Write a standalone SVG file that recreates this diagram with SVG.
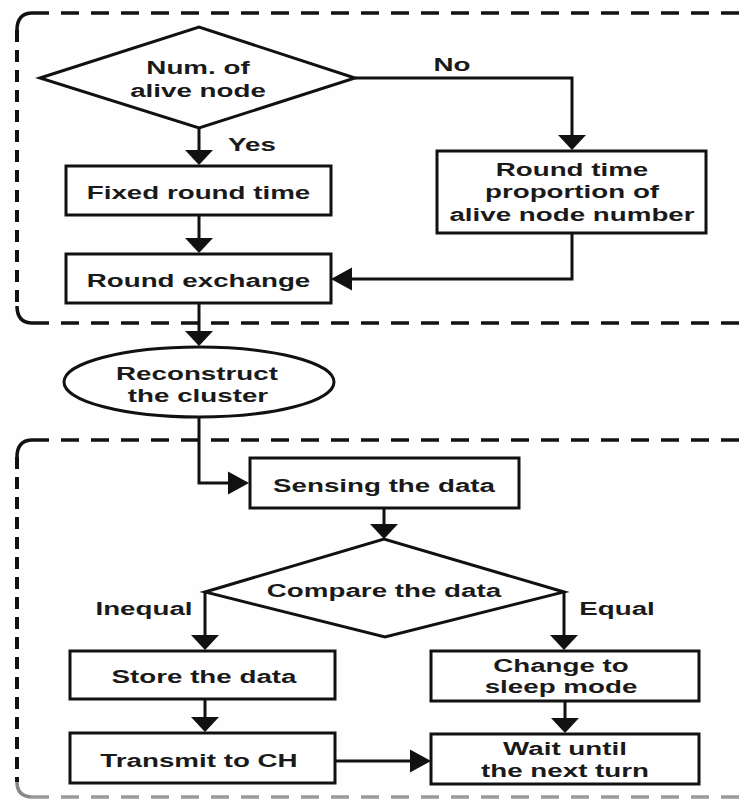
<svg xmlns="http://www.w3.org/2000/svg" width="744" height="804" viewBox="0 0 744 804">
<style>
.bg{fill:#fefefe}
.shape{fill:#fff;stroke:#111;stroke-width:3}
.con{fill:none;stroke:#111;stroke-width:3}
.dh{fill:none;stroke:#111;stroke-width:3.5;stroke-dasharray:18 12}
.dv{fill:none;stroke:#111;stroke-width:4;stroke-dasharray:12 8}
.dc{fill:none;stroke:#111;stroke-width:3.5}
text{font-family:"Liberation Sans",Arial,sans-serif;font-weight:bold;font-size:18.5px;fill:#1a1a1a;text-anchor:middle}
</style>
<defs>
<marker id="av" markerUnits="userSpaceOnUse" markerWidth="16" markerHeight="28" refX="0" refY="14" orient="auto" overflow="visible">
<path d="M0,0 L15,14 L0,28 Z" fill="#111"/>
</marker>
<marker id="ah" markerUnits="userSpaceOnUse" markerWidth="22" markerHeight="24" refX="0" refY="11.5" orient="auto" overflow="visible">
<path d="M0,0 L21,11.5 L0,23 Z" fill="#111"/>
</marker>
</defs>
<rect class="bg" x="0" y="0" width="744" height="804"/>

<g id="region-top">
<path class="dh" d="M31,13 H744"/>
<path class="dv" d="M17,30 V306"/>
<path class="dc" d="M17,30 Q17,14 31,13"/>
<path class="dc" d="M17,306 Q17,322 31,323"/>
<path class="dh" d="M31,323 H744"/>
</g>
<g id="region-bottom">
<path class="dh" d="M31,440 H744"/>
<path class="dv" d="M17,457 V782"/>
<path class="dc" d="M17,457 Q17,441 31,440"/>
<path class="dc" d="M17,782 Q17,796 31,797" style="stroke:#888"/>
<path class="dh" d="M31,797 H744" style="stroke:#999"/>
</g>

<g id="connectors">
<path class="con" d="M199,128 V150" marker-end="url(#av)"/>
<path class="con" d="M199,215 V238" marker-end="url(#av)"/>
<path class="con" d="M355,78 H572 V135" marker-end="url(#av)"/>
<path class="con" d="M572,233 V279 H352" marker-end="url(#ah)"/>
<path class="con" d="M199,303 V331" marker-end="url(#av)"/>
<path class="con" d="M199,417 V483 H228" marker-end="url(#ah)"/>
<path class="con" d="M384,508 V524" marker-end="url(#av)"/>
<path class="con" d="M205,592 V635" marker-end="url(#av)"/>
<path class="con" d="M564,592 V635" marker-end="url(#av)"/>
<path class="con" d="M205,699 V717" marker-end="url(#av)"/>
<path class="con" d="M565,701 V718" marker-end="url(#av)"/>
<path class="con" d="M335,761 H410" marker-end="url(#ah)"/>
<text transform="translate(252,151) scale(1.5,1)">Yes</text>
<text transform="translate(452,71) scale(1.5,1)">No</text>
<text transform="translate(144,615) scale(1.5,1)">Inequal</text>
<text transform="translate(617,615) scale(1.5,1)">Equal</text>
</g>

<g id="n-alive">
<polygon class="shape" points="40,78 199,27 355,78 199,128"/>
<text transform="translate(198,74) scale(1.5,1)">Num. of</text>
<text transform="translate(198,97) scale(1.5,1)">alive node</text>
</g>
<g id="n-fixed">
<rect class="shape" x="66" y="166" width="265" height="49"/>
<text transform="translate(198.5,199) scale(1.5,1)">Fixed round time</text>
</g>
<g id="n-exchange">
<rect class="shape" x="66" y="254" width="265" height="49"/>
<text transform="translate(198.5,287) scale(1.5,1)">Round exchange</text>
</g>
<g id="n-proportion">
<rect class="shape" x="437" y="151" width="269" height="82"/>
<text transform="translate(572,176) scale(1.5,1)">Round time</text>
<text transform="translate(572,198) scale(1.5,1)">proportion of</text>
<text transform="translate(572,221) scale(1.5,1)">alive node number</text>
</g>
<g id="n-reconstruct">
<ellipse class="shape" cx="199" cy="382" rx="135" ry="35"/>
<text transform="translate(197,380) scale(1.5,1)">Reconstruct</text>
<text transform="translate(198,402) scale(1.5,1)">the cluster</text>
</g>
<g id="n-sensing">
<rect class="shape" x="250" y="458" width="269" height="50"/>
<text transform="translate(384,492) scale(1.5,1)">Sensing the data</text>
</g>
<g id="n-compare">
<polygon class="shape" points="205,592 384,539 564,592 385,637"/>
<text transform="translate(384,597) scale(1.5,1)">Compare the data</text>
</g>
<g id="n-store">
<rect class="shape" x="70" y="651" width="265" height="48"/>
<text transform="translate(204,683) scale(1.5,1)">Store the data</text>
</g>
<g id="n-transmit">
<rect class="shape" x="70" y="733" width="265" height="50"/>
<text transform="translate(199,767) scale(1.5,1)">Transmit to CH</text>
</g>
<g id="n-sleep">
<rect class="shape" x="431" y="651" width="268" height="50"/>
<text transform="translate(561,672) scale(1.5,1)">Change to</text>
<text transform="translate(561,693) scale(1.5,1)">sleep mode</text>
</g>
<g id="n-wait">
<rect class="shape" x="431" y="734" width="268" height="50"/>
<text transform="translate(565,755) scale(1.5,1)">Wait until</text>
<text transform="translate(565,777) scale(1.5,1)">the next turn</text>
</g>
</svg>
